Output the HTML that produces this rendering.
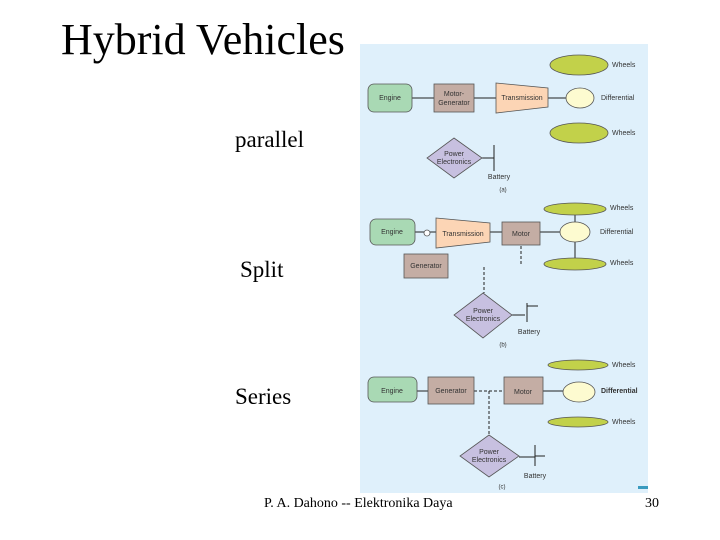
<!DOCTYPE html>
<html><head><style>
body{margin:0;width:720px;height:540px;background:#fff;position:relative;overflow:hidden;font-family:"Liberation Serif",serif}
.t{position:absolute;white-space:nowrap}
</style></head><body>
<div class="t" style="left:61px;top:14px;font-size:44px">Hybrid Vehicles</div>
<div class="t" style="left:235px;top:127px;font-size:23px">parallel</div>
<div class="t" style="left:240px;top:257px;font-size:23px">Split</div>
<div class="t" style="left:235px;top:384px;font-size:23px">Series</div>
<div class="t" style="left:264px;top:496px;font-size:14px">P. A. Dahono -- Elektronika Daya</div>
<div class="t" style="left:645px;top:496px;font-size:14px">30</div>
<svg width="720" height="540" style="position:absolute;left:0;top:0" font-family="Liberation Sans,sans-serif" font-size="7">
<rect x="360" y="44" width="288" height="449" fill="#dff0fb"/>
<rect x="638" y="486" width="10" height="3" fill="#3a9bbf"/>
<g stroke="#222" stroke-width="1" fill="none">
<line x1="412" y1="98" x2="566" y2="98"/>
<line x1="482" y1="158" x2="494" y2="158"/><line x1="494" y1="145" x2="494" y2="171"/>
<line x1="415" y1="232" x2="436" y2="232"/><line x1="490" y1="232" x2="560" y2="232"/>
<line x1="575" y1="215" x2="575" y2="259"/>
<line x1="521" y1="246" x2="521" y2="264" stroke-dasharray="3,2"/>
<line x1="484" y1="267" x2="484" y2="293" stroke-dasharray="3,2"/>
<line x1="512" y1="315" x2="525" y2="315"/><line x1="527" y1="303" x2="527" y2="322"/><line x1="527" y1="306" x2="538" y2="306"/>
<line x1="417" y1="391" x2="428" y2="391"/><line x1="543" y1="391" x2="563" y2="391"/>
<line x1="474" y1="391" x2="504" y2="391" stroke-dasharray="3,2"/>
<line x1="489" y1="391" x2="489" y2="435" stroke-dasharray="3,2"/>
<line x1="519" y1="457" x2="535" y2="457"/><line x1="535" y1="445" x2="535" y2="466"/><line x1="535" y1="456" x2="545" y2="456"/>
</g>
<g stroke="#555" stroke-width="0.8">
<ellipse cx="579" cy="65" rx="29" ry="10" fill="#c2d14a"/>
<ellipse cx="579" cy="133" rx="29" ry="10" fill="#c2d14a"/>
<rect x="368" y="84" width="44" height="28" rx="6" fill="#a9d9b4"/>
<rect x="434" y="84" width="40" height="28" fill="#c4ada4"/>
<polygon points="496,83 548,88 548,107 496,113" fill="#fcd5b5"/>
<ellipse cx="580" cy="98" rx="14" ry="10" fill="#fdfbd0"/>
<polygon points="454,138 482,158 454,178 427,158" fill="#c7c0e0"/>
<ellipse cx="575" cy="209" rx="31" ry="6" fill="#c2d14a"/>
<ellipse cx="575" cy="264" rx="31" ry="6" fill="#c2d14a"/>
<rect x="370" y="219" width="45" height="26" rx="6" fill="#a9d9b4"/>
<circle cx="427" cy="233" r="3" fill="#fff"/>
<polygon points="436,218 490,223 490,242 436,248" fill="#fcd5b5"/>
<rect x="502" y="222" width="38" height="23" fill="#c4ada4"/>
<ellipse cx="575" cy="232" rx="15" ry="10" fill="#fdfbd0"/>
<rect x="404" y="254" width="44" height="24" fill="#c4ada4"/>
<polygon points="483,293 512,315 483,338 454,315" fill="#c7c0e0"/>
<ellipse cx="578" cy="365" rx="30" ry="5" fill="#c2d14a"/>
<ellipse cx="578" cy="422" rx="30" ry="5" fill="#c2d14a"/>
<rect x="368" y="377" width="49" height="25" rx="6" fill="#a9d9b4"/>
<rect x="428" y="377" width="46" height="27" fill="#c4ada4"/>
<rect x="504" y="377" width="39" height="27" fill="#c4ada4"/>
<ellipse cx="579" cy="392" rx="16" ry="10" fill="#fdfbd0"/>
<polygon points="489,435 519,456 489,477 460,456" fill="#c7c0e0"/>
</g>
<g fill="#333" dominant-baseline="middle">
<text x="612" y="65">Wheels</text><text x="601" y="98">Differential</text><text x="612" y="133">Wheels</text>
<text x="390" y="98" text-anchor="middle">Engine</text>
<text x="454" y="94" text-anchor="middle">Motor-</text><text x="454" y="103" text-anchor="middle">Generator</text>
<text x="522" y="98" text-anchor="middle">Transmission</text>
<text x="454" y="154" text-anchor="middle">Power</text><text x="454" y="162" text-anchor="middle">Electronics</text>
<text x="499" y="177" text-anchor="middle">Battery</text><text x="503" y="190" text-anchor="middle" font-size="6">(a)</text>
<text x="610" y="208">Wheels</text><text x="600" y="232">Differential</text><text x="610" y="263">Wheels</text>
<text x="392" y="232" text-anchor="middle">Engine</text>
<text x="463" y="234" text-anchor="middle">Transmission</text>
<text x="521" y="234" text-anchor="middle">Motor</text>
<text x="426" y="266" text-anchor="middle">Generator</text>
<text x="483" y="311" text-anchor="middle">Power</text><text x="483" y="319" text-anchor="middle">Electronics</text>
<text x="529" y="332" text-anchor="middle">Battery</text><text x="503" y="345" text-anchor="middle" font-size="6">(b)</text>
<text x="612" y="365">Wheels</text><text x="601" y="391" font-weight="bold">Differential</text><text x="612" y="422">Wheels</text>
<text x="392" y="391" text-anchor="middle">Engine</text>
<text x="451" y="391" text-anchor="middle">Generator</text>
<text x="523" y="392" text-anchor="middle">Motor</text>
<text x="489" y="452" text-anchor="middle">Power</text><text x="489" y="460" text-anchor="middle">Electronics</text>
<text x="535" y="476" text-anchor="middle">Battery</text><text x="502" y="487" text-anchor="middle" font-size="6">(c)</text>
</g>
</svg>
</body></html>
